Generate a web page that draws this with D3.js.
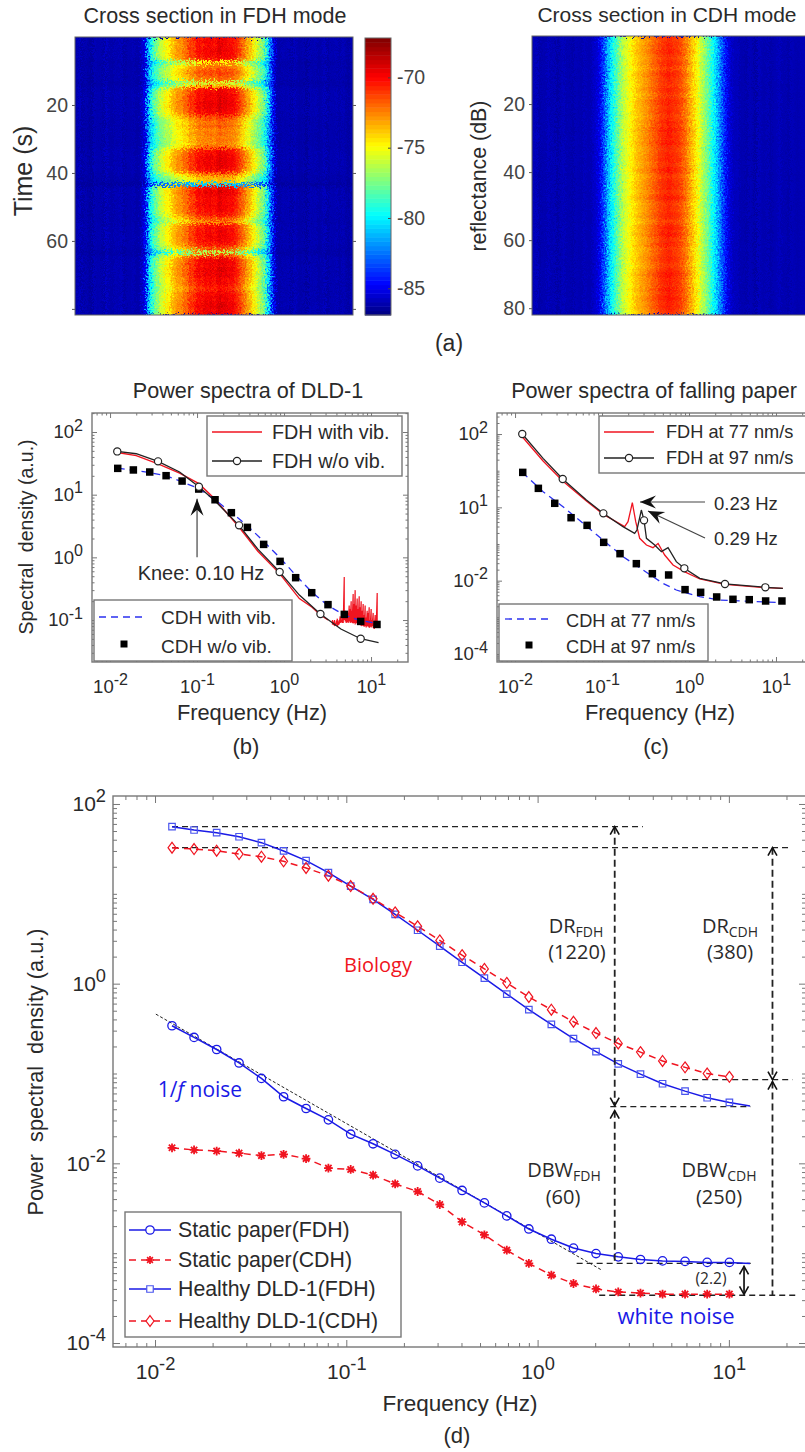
<!DOCTYPE html>
<html>
<head>
<meta charset="utf-8">
<script src="https://cdn.jsdelivr.net/npm/d3@7"></script>
<style>
  html, body { margin: 0; padding: 0; background: #fff; }
  svg { display: block; }
  text { font-family: "Liberation Sans", Arial, sans-serif; fill: #2a2a2a; white-space: pre; }
  .note { font-family: "Open Sans", sans-serif; }
</style>
</head>
<body>
<svg width="0" height="0" style="position:absolute">
  <filter id="grain" x="0" y="0" width="100%" height="100%" color-interpolation-filters="sRGB">
    <feTurbulence type="fractalNoise" baseFrequency="0.55" numOctaves="2" seed="4" result="n"/>
    <feDisplacementMap in="SourceGraphic" in2="n" scale="13" xChannelSelector="R" yChannelSelector="G"/>
    <feGaussianBlur stdDeviation="0.45"/>
  </filter>
</svg>
<script>
const svgWidth = 805; //Width of SVG.
const svgHeight = 1452; //Height of SVG.

// ---- (a) cross sections: dB across the beam (one value per column) and a time gain (one per second)
const fdhColumns = [-86.1,-85.8,-86.3,-86.0,-86.2,-86.4,-85.9,-86.1,-86.0,-86.3,-85.7,-86.1,-86.2,-85.9,-86.1,-85.8,-86.3,-86.0,-86.1,-85.9,-86.2,-86.1,-85.6,-84.9,
  -81.5,-79.6,-78.2,-77.4,-76.2,-75.9,-74.8,-75.1,-73.9,-73.6,-72.9,-73.2,-72.2,-72.4,-71.1,-71.6,-70.7,-70.2,-70.8,-69.9,-70.4,-69.8,-70.6,-70.0,-69.5,-70.3,-69.8,-70.5,-70.1,-70.7,-71.1,-71.9,-72.4,-73.4,-73.8,-74.8,-75.4,-76.4,-77.1,-78.2,-80.3,-82.6,-84.9,
  -86.0,-86.2,-85.9,-86.1,-85.9,-86.3,-85.8,-86.1,-86.2,-86.0,-86.4,-85.9,-86.1,-85.9,-86.2,-86.1,-85.8,-86.3,-86.0,-86.1,-85.9,-86.2,-85.9,-86.1,-86.3,-86.0];
const fdhRows = [1.01,1.02,1.0,1.02,1.01,1.02,.98,.72,.86,.9,.93,.9,.88,.66,.8,1.0,1.01,1.03,1.02,1.04,1.03,1.02,1.01,.94,.89,.87,.9,.85,.88,.85,.87,.83,.89,1.0,1.01,1.03,1.02,1.03,1.02,1.0,.88,.8,.78,.35,1.0,1.04,1.02,1.01,1.01,1.02,1.01,1.0,.98,.92,.84,.98,1.01,1.0,1.02,1.01,1.0,.97,.9,.62,.9,1.01,1.03,1.01,1.04,1.02,1.03,1.0,1.01,.98,.97,1.01,1.02,1.01,1.03,1.04,1.02,1.03];
const cdhColumns = [-86.0,-85.8,-86.2,-86.0,-86.1,-85.8,-86.1,-85.9,-86.3,-86.0,-85.8,-86.1,-86.0,-86.2,-85.9,-86.0,-86.1,-85.8,-86.0,-86.0,-85.7,-85.5,-85,-83.9,-82.6,-81,-80,-79,-78,-77,-76,-75.6,-75,-74.5,-74,-73.6,-73.3,-73,-72.7,-72.3,-71.9,-71.7,-71.2,-71,-70.9,-70.6,-70.8,-71,-71.1,-71.4,-71.9,-72.4,-73.2,-73.8,-74.5,-75.2,-76.1,-76.9,-77.7,-78.8,-79.8,-80.7,-82,-83.2,-84.3,-85.2,-85.6,-85.9,-85.8,-86.1,-86.0,-86.2,-85.9,-86.0,-86.3,-85.8,-86.0,-86.1,-85.9,-86.2,-86.0,-86.0,-85.8,-86.1,-86.0,-86.2,-85.9,-86.0,-86.1,-86.0,-85.9];
const cdhRows = [1.0,.98,1.01,.99,1.02,1.0,.98,1.0,1.01,.97,1.0,1.02,.99,1.0,.98,1.01,1.0,.97,1.0,1.02,.99,1.0,1.01,.98,1.0,1.02,.99,1.03,1.0,1.02,1.0,1.03,1.0,.99,1.01,1.0,1.02,.99,1.0,1.03,1.0,.98,1.01,1.0,1.02,.99,1.0,1.03,1.0,.98,1.0,.99,1.01,1.0,.97,1.0,1.02,1.0,1.03,.99,1.0,1.02,.98,1.0,.99,1.01,1.0,.98,1.0,1.02,1.03,1.0,1.02,.99,1.03,1.0,1.02,1.03,1.0,1.02,1.0,.99];
const timeTicks = [20, 40, 60, 80];
const fdhTimeLabels = ["20", "40", "60", ""]; //The left panel leaves its 80 tick unlabelled.
const cdhTimeLabels = ["20", "40", "60", "80"];
const colorTicks = [-70, -75, -80, -85];
const jetStops = ["#00007f", "#0000ff", "#00ffff", "#ffff00", "#ff0000", "#7f0000"];
const jetDomain = [-86.9, -84.7, -79.8, -74.9, -70, -67.2];

// ---- (b) Power spectra of DLD-1
const bFreq = [.01225,.01853,.02858,.04406,.0673,.1045,.161,.248,.379,.583,.90,1.36,2.08,3.2,4.93,7.6,11.7];
const bCdhDots = [26.3,24.8,23,20.1,16.5,12.3,8.3,5.16,3.01,1.61,.863,.474,.273,.176,.123,.095,.085];
const bCdhLine = [26.5,24.5,22.5,20,16,12.5,8.3,5.2,3.2,1.8,.98,.52,.28,.17,.12,.098,.088];
const bFdhFreq = [.0121,.02,.0356,.063,.105,.16,.304,.5,.89,1.5,2.62,4.5,7.6,12.2];
const bFdh = [49,45,34,23,13.4,8,3.24,1.35,.583,.25,.125,.072,.0503,.0435];
const bFdhCircleFreq = [.0121,.0356,.105,.304,.89,2.62,7.6];
const bFdhCircles = [49,34,13.4,3.24,.583,.125,.0503];
const bVibFreq = [.0121,.02,.0356,.063,.105,.16,.3,.5,.89,1.5,2.1,2.62,3.2];
const bVib = [47,42,31,22,15,8.5,3.1,1.25,.55,.22,.16,.12,.1];
const bVibNoisyFreq = [3.6,3.7,3.8,3.9,4.0,4.1,4.2,4.3,4.42,4.54,4.66,4.79,4.92,5.05,5.18,5.32,5.46,5.61,5.76,5.91,6.07,6.23,6.4,6.57,6.75,6.93,7.12,7.31,7.5,7.7,7.91,8.12,8.34,8.56,8.79,9.03,9.27,9.52,9.77,10.03,10.3,10.58,10.87,11.16,11.46,11.77,12.1];
const bVibHigh = [.1,.095,.1,.09,.098,.105,.095,.1,.115,.11,.1,.13,.485,.14,.12,.11,.13,.17,.15,.2,.14,.26,.18,.3,.17,.22,.15,.24,.16,.2,.14,.18,.12,.17,.11,.14,.13,.16,.1,.15,.1,.13,.09,.12,.1,.27,.08];
const bVibLow = [.085,.083,.08,.082,.084,.08,.083,.085,.09,.092,.09,.09,.1,.095,.09,.092,.09,.095,.09,.092,.09,.088,.09,.085,.09,.087,.085,.088,.085,.08,.082,.08,.078,.08,.076,.08,.078,.075,.078,.076,.08,.075,.072,.078,.075,.08,.075];

// ---- (c) Power spectra of falling paper
const cDots = [9.0,3.3,1.29,.522,.323,.111,.0545,.0291,.0155,.0143,.00569,.00481,.00359,.0031,.00303,.00279,.00279];
const cCdhFreq = [.0121,.021,.0356,.0605,.1026,.174,.296,.502,.714,1.33,2.25,4.17,11.6];
const cCdh = [9,2.67,1.04,.366,.129,.0452,.0195,.00845,.00556,.00366,.00297,.00279,.00251];
const cBlackFreq = [.0121,.021,.0353,.0661,.1035,.174,.237,.252,.283,.304,.324,.403,.481,.574,.714,.883,1.33,2.59,7.54,12];
const cBlack = [100,21.7,5.93,1.58,.686,.297,.195,.241,.845,.442,.143,.094,.0618,.0794,.033,.0217,.0116,.00813,.00658,.00618];
const cCircleFreq = [.0121,.0353,.1035,.304,.883,2.59,7.54];
const cCircles = [100,5.93,.686,.442,.0217,.00813,.00658];
const cRedFreq = [.0121,.021,.0353,.0661,.1035,.146,.182,.199,.223,.244,.271,.324,.385,.441,.525,.655,.883,1.33,2.59,7.54,12];
const cRed = [84.6,18.4,5.23,1.49,.644,.406,.297,.406,1.34,.406,.143,.094,.0794,.104,.0501,.0267,.0176,.0111,.00794,.00644,.00618];
const cYTickLabels = ["2", "1", "-2", "-4"]; //The picture really prints 10^1 at the 10^0 position.

// ---- (d) all four spectra
const dFreq = [.01227,.016,.021,.0275,.036,.047,.0616,.0806,.1054,.138,.18,.236,.308,.403,.527,.69,.9,1.18,1.54,2.02,2.64,3.45,4.5,5.9,7.7,10.06];
const staticFdh = [.34,.252,.185,.131,.0881,.0551,.0408,.0305,.0211,.0165,.0126,.00937,.00684,.00499,.00363,.0026,.00186,.00143,.00114,.00099,.00091,.00085,.00082,.00081,.00079,.00079];
const staticCdh = [.0149,.0141,.0137,.013,.0122,.0126,.0113,.00885,.00855,.0074,.0059,.00486,.00348,.00223,.0016,.00108,.00077,.00057,.00046,.0004,.00037,.00036,.00035,.00035,.00035,.00035];
const dld1Fdh = [55.9,51.3,47.9,43.2,37.1,30,23.4,17.2,12.2,8.69,5.92,3.93,2.62,1.73,1.15,.766,.513,.352,.244,.175,.128,.0984,.0769,.0637,.0537,.0476];
const dld1Cdh = [32.6,31.5,30.2,27.7,25.9,23,19.4,15.9,12.2,8.8,6.22,4.35,3.03,2.08,1.46,1.02,.71,.513,.377,.282,.216,.173,.138,.117,.1,.0918];
const dLegend = ["Static paper(FDH)", "Static paper(CDH)", "Healthy DLD-1(FDH)", "Healthy DLD-1(CDH)"];

const xDecades = [.01, .1, 1, 10];
const blue = "#1a1ae6";
const blueLight = "#4a55ee";
const red = "#f01420";
const frameGrey = "#777";

let svg = d3.select("body").append("svg")
            .attr("width", svgWidth)
            .attr("height", svgHeight);

const sup = (sel, fs, exp) => { //Writes a "10" with a raised exponent into a text selection.
  sel.text(null);
  sel.append("tspan").text("10");
  sel.append("tspan").attr("dy", -fs * 0.42).attr("font-size", fs * 0.87).text(exp);
};

const plainText = (x, y, str, size, opts = {}) => svg.append("text")
    .attr("x", x).attr("y", y)
    .attr("font-size", size)
    .attr("text-anchor", opts.anchor || "middle")
    .attr("class", opts.cls || null)
    .style("fill", opts.fill || null)
    .text(str);

const rotatedText = (x, y, str, size) => svg.append("text")
    .attr("transform", "translate(" + x + "," + y + ") rotate(-90)")
    .attr("font-size", size)
    .attr("text-anchor", "middle")
    .text(str);

//Log frame: box plus ticks on all four sides, labels only left and bottom.
const logFrame = (x, y, yMajors, yExps, fs, major, minor, xPad, yPad) => {
  let g = svg.append("g");
  const [l, r] = x.range();
  const [t, b] = y.range();
  const xMinor = x.ticks().filter(v => !xDecades.some(m => Math.abs(v / m - 1) < 1e-6));
  const yMinor = y.ticks().filter(v => !yMajors.some(m => Math.abs(v / m - 1) < 1e-6));

  const put = (axis, tx, ty, values, len, labels, pad) => {
    let a = g.append("g")
      .attr("transform", "translate(" + tx + "," + ty + ")")
      .call(axis.tickValues(values).tickSize(len).tickPadding(pad || 0).tickFormat(""));
    a.selectAll("path").attr("stroke", "none");
    a.selectAll("line").attr("stroke", frameGrey).attr("stroke-width", 1);
    if (labels) a.selectAll("text").attr("font-size", fs).each(function(d, i) { sup(d3.select(this), fs, labels[i]); });
    return a;
  };
  put(d3.axisBottom(x), 0, b, xDecades, -major, ["-2", "-1", "0", "1"], xPad);
  put(d3.axisBottom(x), 0, b, xMinor, -minor);
  put(d3.axisTop(x), 0, t, xDecades, -major);
  put(d3.axisTop(x), 0, t, xMinor, -minor);
  put(d3.axisLeft(y), l, 0, yMajors, -major, yExps, yPad);
  put(d3.axisLeft(y), l, 0, yMinor, -minor);
  put(d3.axisRight(y), r, 0, yMajors, -major);
  put(d3.axisRight(y), r, 0, yMinor, -minor);

  g.append("rect")
    .attr("x", l).attr("y", t)
    .attr("width", r - l).attr("height", b - t)
    .attr("fill", "none")
    .attr("stroke", frameGrey)
    .attr("stroke-width", 1.4);
};

const curve = (x, y, fs, vs, color, width, dash) => svg.append("path")
    .datum(fs.map((f, i) => [f, vs[i]]))
    .attr("fill", "none")
    .attr("stroke", color)
    .attr("stroke-width", width)
    .attr("stroke-dasharray", dash || null)
    .attr("d", d3.line().x(d => x(d[0])).y(d => y(d[1])));

//Marker shapes, all centred on 0,0.
const markers = {
  circle: r => d3.symbol().type(d3.symbolCircle).size(Math.PI * r * r)(),
  square: s => d3.symbol().type(d3.symbolSquare).size(s * s)(),
  diamond: s => "M0," + (-s * 0.68) + "L" + (s * 0.5) + ",0L0," + (s * 0.68) + "L" + (-s * 0.5) + ",0Z",
  star: s => "M" + (-s) + ",0L" + s + ",0M0," + (-s) + "L0," + s + "M" + (-s * .72) + "," + (-s * .72) + "L" + (s * .72) + "," + (s * .72) + "M" + (-s * .72) + "," + (s * .72) + "L" + (s * .72) + "," + (-s * .72)
};

const dots = (x, y, fs, vs, path, fill, stroke, sw) => svg.append("g")
    .selectAll("path")
    .data(fs.map((f, i) => [f, vs[i]]))
    .enter()
    .append("path")
    .attr("transform", d => "translate(" + x(d[0]) + "," + y(d[1]) + ")")
    .attr("d", path)
    .attr("fill", fill)
    .attr("stroke", stroke)
    .attr("stroke-width", sw);

const legendBox = (x0, y0, x1, y1) => svg.append("rect")
    .attr("x", x0).attr("y", y0)
    .attr("width", x1 - x0).attr("height", y1 - y0)
    .attr("fill", "#fff")
    .attr("stroke", frameGrey)
    .attr("stroke-width", 1.4);

const legendLine = (x0, x1, yy, color, width, dash) => svg.append("line")
    .attr("x1", x0).attr("x2", x1)
    .attr("y1", yy).attr("y2", yy)
    .attr("stroke", color)
    .attr("stroke-width", width)
    .attr("stroke-dasharray", dash || null);

const legendMark = (xx, yy, path, fill, stroke, sw) => svg.append("path")
    .attr("transform", "translate(" + xx + "," + yy + ")")
    .attr("d", path)
    .attr("fill", fill)
    .attr("stroke", stroke)
    .attr("stroke-width", sw);

//Straight arrow with a filled barbed head, from (x0,y0) pointing at (x1,y1).
const barbArrow = (x0, y0, x1, y1, len, half) => {
  svg.append("line")
    .attr("x1", x0).attr("y1", y0)
    .attr("x2", x1).attr("y2", y1)
    .attr("stroke", "#444").attr("stroke-width", 1.2);
  svg.append("path")
    .attr("transform", "translate(" + x1 + "," + y1 + ") rotate(" + (Math.atan2(y1 - y0, x1 - x0) * 180 / Math.PI) + ")")
    .attr("d", "M0,0L" + (-len) + "," + (-half) + "L" + (-len * 0.65) + ",0L" + (-len) + "," + half + "Z")
    .attr("fill", "#111");
};

//Dashed vertical span for panel (d), open chevron on the ends named in heads.
const span = (xx, y0, y1, heads, dash) => {
  svg.append("line")
    .attr("x1", xx).attr("x2", xx)
    .attr("y1", y0).attr("y2", y1)
    .attr("stroke", "#222").attr("stroke-width", 1.8)
    .attr("stroke-dasharray", dash || null);
  const chev = (yy, dir) => svg.append("path")
    .attr("d", "M" + (xx - 4.5) + "," + (yy + dir * 8) + "L" + xx + "," + yy + "L" + (xx + 4.5) + "," + (yy + dir * 8))
    .attr("fill", "none").attr("stroke", "#111").attr("stroke-width", 1.6);
  if (heads.includes("top")) chev(y0, 1);
  if (heads.includes("bottom")) chev(y1, -1);
};

// ---- (a) heat maps
const jet = d3.scaleLinear().domain(jetDomain).range(jetStops).clamp(true);

const heatmap = (id, columns, rows, x0, x1, y0, y1, floor) => {
  const xBand = d3.scaleBand().domain(d3.range(columns.length)).range([x0, x1]);
  const yBand = d3.scaleBand().domain(d3.range(rows.length)).range([y0, y1]);
  const cells = [];
  rows.forEach((gain, r) => columns.forEach((db, c) => cells.push({ r, c, v: floor + (db - floor) * gain })));
  svg.append("clipPath").attr("id", id)
    .append("rect").attr("x", x0).attr("y", y0).attr("width", x1 - x0).attr("height", y1 - y0);
  let holder = svg.append("g").attr("clip-path", "url(#" + id + ")");
  holder.append("rect") //Sits behind the grain so its displaced edge never shows white.
    .attr("x", x0).attr("y", y0)
    .attr("width", x1 - x0).attr("height", y1 - y0)
    .attr("fill", jet(columns[0]));
  holder.append("g")
    .attr("filter", "url(#grain)")
    .selectAll("rect")
    .data(cells)
    .enter()
    .append("rect")
    .attr("x", d => xBand(d.c))
    .attr("y", d => yBand(d.r))
    .attr("width", xBand.bandwidth() + 0.5)
    .attr("height", yBand.bandwidth() + 0.5)
    .attr("fill", d => jet(d.v));
};

heatmap("clipFdh", fdhColumns, fdhRows, 75, 353, 37, 315, -86.5);
heatmap("clipCdh", cdhColumns, cdhRows, 532, 805, 36, 315, -86.5);

const timeA = d3.scaleLinear().domain([0, 81.8]).range([37, 315]);
const timeB = d3.scaleLinear().domain([0, 82]).range([36, 315]);

const heatFrame = (scale, labels, xLeft, xRight, y0, y1, fs) => {
  let g = svg.append("g");
  let left = g.append("g")
    .attr("transform", "translate(" + xLeft + ",0)")
    .call(d3.axisLeft(scale).tickValues(timeTicks).tickSize(3).tickPadding(4).tickFormat((d, i) => labels[i]));
  left.selectAll("text").attr("font-size", fs).style("fill", "#444");
  left.select("path").attr("stroke", "none");
  left.selectAll("line").attr("stroke", "#555");
  let right = g.append("g")
    .attr("transform", "translate(" + xRight + ",0)")
    .call(d3.axisRight(scale).tickValues(timeTicks).tickSize(3).tickFormat(""));
  right.select("path").attr("stroke", "none");
  right.selectAll("line").attr("stroke", "#555");
  g.append("rect")
    .attr("x", xLeft).attr("y", y0)
    .attr("width", xRight - xLeft).attr("height", y1 - y0)
    .attr("fill", "none").attr("stroke", "#666").attr("stroke-width", 1);
};

heatFrame(timeA, fdhTimeLabels, 75, 353, 37, 315, 19.5);
heatFrame(timeB, cdhTimeLabels, 532, 810, 36, 315, 19.5);

// Colorbar
const barScale = d3.scaleLinear().domain([-86.9, -67.2]).range([315, 38]);
const barLevels = d3.range(64).map(i => -86.9 + (i + 0.5) * 19.7 / 64);
svg.append("g").selectAll("rect")
    .data(barLevels)
    .enter()
    .append("rect")
    .attr("x", 365).attr("width", 26)
    .attr("y", d => barScale(d + 19.7 / 128))
    .attr("height", 277 / 64 + 0.5)
    .attr("fill", d => jet(d));
let barAxis = svg.append("g")
    .attr("transform", "translate(391,0)")
    .call(d3.axisRight(barScale).tickValues(colorTicks).tickSize(-3).tickPadding(6).tickFormat(d => String(d)));
barAxis.select("path").attr("stroke", "none");
barAxis.selectAll("line").attr("stroke", "#444");
barAxis.selectAll("text").attr("font-size", 19.5).style("fill", "#444");
svg.append("rect").attr("x", 365).attr("y", 38).attr("width", 26).attr("height", 277)
    .attr("fill", "none").attr("stroke", "#666");

plainText(215, 23, "Cross section in FDH mode", 21.5);
plainText(667, 22, "Cross section in CDH mode", 21);
rotatedText(32, 171, "Time (s)", 25);
rotatedText(486, 176, "reflectance (dB)", 21.4);
plainText(449, 351, "(a)", 23);

// ---- (b)
plainText(248, 398, "Power spectra of DLD-1", 21.6);
const xB = d3.scaleLog().domain([.0062, 26.6]).range([92, 408]);
const yB = d3.scaleLog().domain([201, .0214]).range([413, 662]);
logFrame(xB, yB, [100, 10, 1, .1], ["2", "1", "0", "-1"], 18.5, 5, 2.5, 18, 9);

curve(xB, yB, bVibFreq, bVib, red, 1.4);
curve(xB, yB, bVibNoisyFreq.flatMap(f => [f, f]), bVibHigh.flatMap((h, i) => [h, bVibLow[i]]), red, 1.2);
curve(xB, yB, bFreq, bCdhLine, "#2a30f0", 1.3, "7 5");
curve(xB, yB, bFdhFreq, bFdh, "#222", 1.3);
dots(xB, yB, bFreq, bCdhDots, markers.square(7.5), "#000", "none", 0);
dots(xB, yB, bFdhCircleFreq, bFdhCircles, markers.circle(3.6), "#fff", "#222", 1.2);

barbArrow(xB(.1), yB(1), xB(.1), yB(8.6), 17, 6.5);
plainText(201, 580, "Knee: 0.10 Hz", 20);

legendBox(207, 416, 402, 476);
legendLine(212, 262, 432, red, 1.3);
legendLine(212, 262, 461, "#222", 1.3);
legendMark(237, 461, markers.circle(3.6), "#fff", "#222", 1.2);
plainText(272, 439, "FDH with vib.", 19.8, { anchor: "start" });
plainText(272, 468, "FDH w/o vib.", 19.8, { anchor: "start" });
legendBox(94, 600, 292, 661);
legendLine(99, 147, 617, "#2a30f0", 1.3, "7 5");
legendMark(124, 644, markers.square(7), "#000", "none", 0);
plainText(161, 624, "CDH with vib.", 19, { anchor: "start" });
plainText(161, 653, "CDH w/o vib.", 19, { anchor: "start" });

plainText(252, 720, "Frequency (Hz)", 21.8);
rotatedText(33, 537, "Spectral  density (a.u.)", 19.5);
plainText(246, 754, "(b)", 22);

// ---- (c)
plainText(654, 398, "Power spectra of falling paper", 21.6);
const xC = d3.scaleLog().domain([.0062, 24.6]).range([497, 810]);
const yC = d3.scaleLog().domain([375, 6.04e-5]).range([413, 662]);
logFrame(xC, yC, [100, 1, .01, .0001], cYTickLabels, 18.5, 5, 2.5, 18, 9);

curve(xC, yC, cRedFreq, cRed, red, 1.3);
curve(xC, yC, cBlackFreq, cBlack, "#222", 1.3);
curve(xC, yC, cCdhFreq, cCdh, "#2a30f0", 1.3, "7 5");
dots(xC, yC, bFreq, cDots, markers.square(7.5), "#000", "none", 0);
dots(xC, yC, cCircleFreq, cCircles, markers.circle(3.6), "#fff", "#222", 1.2);

barbArrow(705, 502, 640, 502, 16, 6.5);
barbArrow(705, 538, 648, 511, 16, 6.5);
plainText(714, 510, "0.23 Hz", 18.5, { anchor: "start" });
plainText(714, 545, "0.29 Hz", 18.5, { anchor: "start" });

legendBox(599, 416, 812, 473);
legendLine(604, 654, 432, red, 1.3);
legendLine(604, 654, 458, "#222", 1.3);
legendMark(629, 458, markers.circle(3.6), "#fff", "#222", 1.2);
plainText(666, 438, "FDH at 77 nm/s", 18.2, { anchor: "start" });
plainText(666, 464, "FDH at 97 nm/s", 18.2, { anchor: "start" });
legendBox(499, 604, 708, 661);
legendLine(505, 552, 619, "#2a30f0", 1.3, "7 5");
legendMark(529, 645, markers.square(7), "#000", "none", 0);
plainText(566, 627, "CDH at 77 nm/s", 18.2, { anchor: "start" });
plainText(566, 653, "CDH at 97 nm/s", 18.2, { anchor: "start" });

plainText(660, 720, "Frequency (Hz)", 21.8);
plainText(656, 754, "(c)", 22);

// ---- (d)
const xD = d3.scaleLog().domain([.00603, 25.3]).range([113, 806]);
const yD = d3.scaleLog().domain([122.7, 9.03e-5]).range([796, 1347]);
logFrame(xD, yD, [100, 1, .01, .0001], ["2", "0", "-2", "-4"], 21, 7, 4, 17, 7);

//Guide lines
const guide = (f0, f1, v, dash, w) => curve(xD, yD, [f0, f1], [v, v], "#222", w || 1.3, dash || "6 4");
guide(.01227, 3.55, 55.9);
guide(.01227, 20.5, 32.6);
guide(5.7, 21.5, .0855);
guide(2.4, 13, .0427);
guide(1.6, 13, .00077);
guide(2.1, 23, .00034);
curve(xD, yD, [.0101, 2.16], [.458, .00065], "#222", 1, "3 2");

curve(xD, yD, dFreq.concat([12.9]), staticFdh.concat([.00077]), blue, 1.5);
curve(xD, yD, dFreq.concat([12.9]), dld1Fdh.concat([.0434]), blue, 1.5);
curve(xD, yD, dFreq, staticCdh, red, 1.5, "7 5");
curve(xD, yD, dFreq, dld1Cdh, red, 1.5, "7 5");

dots(xD, yD, dFreq, staticFdh, markers.circle(4.2), "none", blue, 1.3);
dots(xD, yD, dFreq, staticCdh, markers.star(4.4), "none", red, 1.8);
dots(xD, yD, dFreq, dld1Fdh, markers.square(6.5), "none", blueLight, 1.2);
dots(xD, yD, dFreq, dld1Cdh, markers.diamond(8), "none", red, 1.2);

//Spans, placed from the same levels the guide lines use
span(xD(2.53), yD(55.9), yD(.0427) - 1, ["top", "bottom"], "7 4");
span(xD(2.53), yD(.0427) + 4, yD(.00077), ["top"], "7 4");
span(xD(16.9), yD(32.6), yD(.0855), ["top", "bottom"], "7 4");
span(xD(16.9), yD(.0855) + 2, yD(.00034), ["top"], "7 4");
span(xD(12), yD(.00077) + 3, yD(.00034) - 1, ["top", "bottom"]);

const note = (x, y, main, sub) => {
  let t = svg.append("text")
    .attr("class", "note")
    .attr("x", x).attr("y", y)
    .attr("font-size", 20)
    .attr("text-anchor", "middle");
  t.append("tspan").text(main);
  t.append("tspan").attr("dy", 4).attr("font-size", 14).text(sub);
};
note(576, 933, "DR", "FDH");
plainText(577, 959, "(1220)", 20, { cls: "note" });
note(730, 933, "DR", "CDH");
plainText(730, 959, "(380)", 20, { cls: "note" });
note(564, 1177, "DBW", "FDH");
plainText(563, 1204, "(60)", 20, { cls: "note" });
note(719, 1177, "DBW", "CDH");
plainText(719, 1204, "(250)", 20, { cls: "note" });
plainText(711, 1284, "(2.2)", 15.5, { cls: "note" });

plainText(378, 972, "Biology", 20, { cls: "note", fill: red });
plainText(676, 1324, "white noise", 22, { cls: "note", fill: blue });
let oneOverF = svg.append("text").attr("class", "note")
    .attr("x", 200).attr("y", 1097)
    .attr("font-size", 21).attr("text-anchor", "middle").style("fill", blue);
oneOverF.append("tspan").text("1/");
oneOverF.append("tspan").style("font-style", "italic").text("f");
oneOverF.append("tspan").text(" noise");

legendBox(125, 1212, 401, 1337);
const legRows = [1230, 1260, 1289, 1321];
legendLine(129, 171, legRows[0], blue, 1.5);
legendLine(129, 171, legRows[1], red, 1.5, "7 5");
legendLine(129, 171, legRows[2], blue, 1.5);
legendLine(129, 171, legRows[3], red, 1.5, "7 5");
legendMark(150, legRows[0], markers.circle(4.2), "#fff", blue, 1.3);
legendMark(150, legRows[1], markers.star(4), "none", red, 1.7);
legendMark(150, legRows[2], markers.square(6.5), "#fff", blueLight, 1.2);
legendMark(150, legRows[3], markers.diamond(8), "#fff", red, 1.2);
svg.append("g").selectAll("text")
    .data(dLegend)
    .enter()
    .append("text")
    .attr("x", 178)
    .attr("y", (d, i) => legRows[i] + 7)
    .attr("font-size", 21.3)
    .text(d => d);

plainText(460, 1411, "Frequency (Hz)", 22.5);
rotatedText(43, 1072, "Power  spectral  density (a.u.)", 21.7);
plainText(457, 1443, "(d)", 22);
</script>
</body>
</html>
